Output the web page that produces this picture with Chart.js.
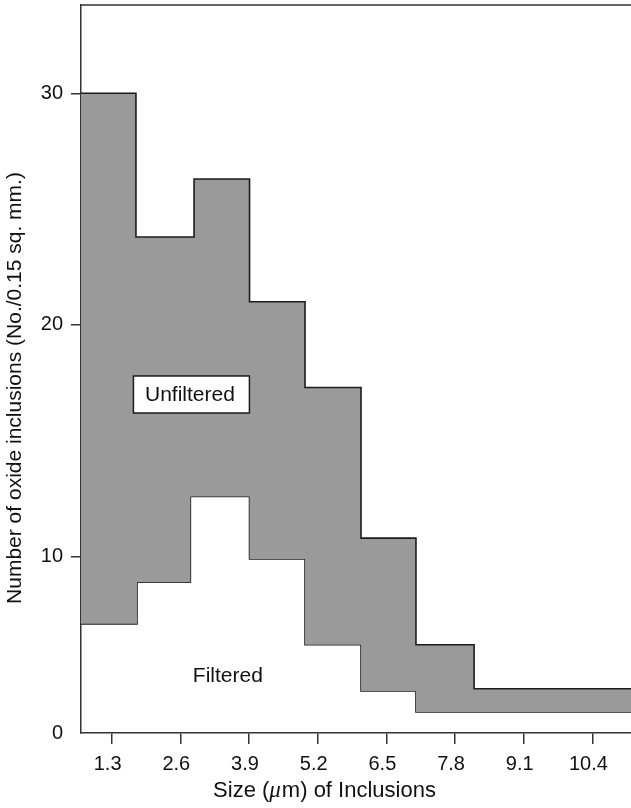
<!DOCTYPE html>
<html>
<head>
<meta charset="utf-8">
<script src="https://cdn.jsdelivr.net/npm/chart.js@4.4.1/dist/chart.umd.min.js"></script>
<style>
  html, body { margin: 0; padding: 0; background: #ffffff; }
  #wrap { width: 631px; height: 808px; position: relative; }
</style>
</head>
<body>
<div id="wrap"><canvas id="chart" width="631" height="808"></canvas></div>
<script>
// Histogram bin edges (µm) and inclusion counts per bin
const unfilteredEdges = [0.72, 1.76, 2.86, 3.91, 4.96, 6.02, 7.06, 8.16, 11.13];
const unfilteredCounts = [30.0, 23.8, 26.3, 21.0, 17.3, 10.8, 6.2, 4.3];
const filteredEdges = [0.72, 1.78, 2.79, 3.91, 4.96, 6.02, 7.06, 8.16, 11.13];
const filteredCounts = [7.1, 8.9, 12.6, 9.9, 6.2, 4.2, 3.3, 3.3];

// Axis ticks
const xTickValues = [1.3, 2.6, 3.9, 5.2, 6.5, 7.8, 9.1, 10.4];
const xTickLabels = ['1.3', '2.6', '3.9', '5.2', '6.5', '7.8', '9.1', '10.4'];
const yTickValues = [2.39, 10, 20, 30];
const yTickLabels = ['0', '10', '20', '30'];

const seriesNames = ['Unfiltered', 'Filtered'];

const X_MIN = 0.72, X_MAX = 11.13;
const Y_MIN = 2.39, Y_MAX = 33.81;

const FONT = '"Liberation Sans", Arial, Helvetica, sans-serif';
const INK = '#1c1c1c';
const AXIS = '#333333';

// Turn edges + counts into points for a step-before line
function toSteps(edges, counts) {
  const pts = counts.map((v, i) => ({ x: edges[i], y: v }));
  pts.push({ x: edges[edges.length - 1], y: counts[counts.length - 1] });
  return pts;
}

// Frame top line, axis titles and series labels
const decorations = {
  id: 'decorations',
  afterDatasetsDraw(chart) {
    const { ctx, scales: { x, y } } = chart;
    ctx.save();
    // "Unfiltered" boxed label
    const ux = x.getPixelForValue(2.81), uy = y.getPixelForValue(17.0);
    const bw = 116, bh = 37;
    ctx.fillStyle = '#ffffff';
    ctx.fillRect(ux - bw / 2, uy - bh / 2, bw, bh);
    ctx.strokeStyle = INK;
    ctx.lineWidth = 1.5;
    ctx.strokeRect(ux - bw / 2, uy - bh / 2, bw, bh);
    ctx.fillStyle = '#111111';
    ctx.font = '21px ' + FONT;
    ctx.textAlign = 'center';
    ctx.textBaseline = 'middle';
    ctx.fillText(seriesNames[0], ux - 1.5, uy + 1);
    // "Filtered" label
    ctx.fillText(seriesNames[1], x.getPixelForValue(3.50), y.getPixelForValue(4.85));
    ctx.restore();
  },
  afterDraw(chart) {
    const { ctx, chartArea: a } = chart;
    ctx.save();
    // top frame line
    ctx.strokeStyle = AXIS;
    ctx.lineWidth = 1.5;
    ctx.beginPath();
    ctx.moveTo(a.left - 0.75, a.top);
    ctx.lineTo(a.right, a.top);
    ctx.stroke();

    ctx.fillStyle = '#111111';
    // y-axis title
    ctx.save();
    ctx.translate(15, 388);
    ctx.rotate(-Math.PI / 2);
    ctx.font = '21px ' + FONT;
    ctx.textAlign = 'center';
    ctx.textBaseline = 'middle';
    ctx.fillText('Number of oxide inclusions (No./0.15 sq. mm.)', 0, 0);
    ctx.restore();

    // x-axis title with italic mu
    const parts = [
      { t: 'Size (', f: '22px ' + FONT },
      { t: '\u03BC', f: 'italic 23px "Liberation Serif", "DejaVu Serif", serif' },
      { t: 'm) of Inclusions', f: '22px ' + FONT }
    ];
    let total = 0;
    parts.forEach(p => { ctx.font = p.f; p.w = ctx.measureText(p.t).width; total += p.w; });
    let cx = 324 - total / 2;
    ctx.textAlign = 'left';
    ctx.textBaseline = 'alphabetic';
    parts.forEach(p => { ctx.font = p.f; ctx.fillText(p.t, cx, 797); cx += p.w + (p.t === '\u03BC' ? 1 : 0); });
    ctx.restore();
  }
};

new Chart(document.getElementById('chart'), {
  type: 'line',
  data: {
    datasets: [
      {
        label: seriesNames[0],
        data: toSteps(unfilteredEdges, unfilteredCounts),
        stepped: 'before',
        borderColor: INK,
        borderWidth: 1.6,
        pointRadius: 0,
        fill: '+1',
        backgroundColor: '#9a9a9a'
      },
      {
        label: seriesNames[1],
        data: toSteps(filteredEdges, filteredCounts),
        stepped: 'before',
        borderColor: INK,
        borderWidth: 1.6,
        pointRadius: 0,
        fill: false
      }
    ]
  },
  options: {
    responsive: false,
    animation: false,
    devicePixelRatio: 1,
    layout: { padding: { top: 5, right: 0, left: 0, bottom: 0 } },
    plugins: { legend: { display: false }, tooltip: { enabled: false } },
    scales: {
      x: {
        type: 'linear',
        min: X_MIN,
        max: X_MAX,
        z: 1,
        afterFit(s) { s.height = 75; s.paddingLeft = 0; s.paddingRight = 0; },
        afterBuildTicks(s) { s.ticks = xTickValues.map(v => ({ value: v })); },
        ticks: {
          callback: (v, i) => xTickLabels[i],
          font: { family: FONT, size: 20 },
          color: '#111111',
          padding: 8,
          labelOffset: -4,
          maxRotation: 0,
          autoSkip: false
        },
        grid: { drawOnChartArea: false, drawTicks: true, tickLength: 11, color: AXIS, lineWidth: 1.5 },
        border: { display: true, color: AXIS, width: 1.5 }
      },
      y: {
        type: 'linear',
        min: Y_MIN,
        max: Y_MAX,
        z: 1,
        afterFit(s) { s.width = 81; s.paddingTop = 0; s.paddingBottom = 0; },
        afterBuildTicks(s) { s.ticks = yTickValues.map(v => ({ value: v })); },
        ticks: {
          callback: (v, i) => yTickLabels[i],
          font: { family: FONT, size: 20 },
          color: '#111111',
          padding: 8,
          autoSkip: false
        },
        grid: {
          drawOnChartArea: false,
          drawTicks: true,
          tickLength: 10,
          color: AXIS,
          tickColor: ctx => (ctx.index === 0 ? 'rgba(0,0,0,0)' : AXIS),
          lineWidth: 1.5
        },
        border: { display: true, color: AXIS, width: 1.5 }
      }
    }
  },
  plugins: [decorations]
});
</script>
</body>
</html>
